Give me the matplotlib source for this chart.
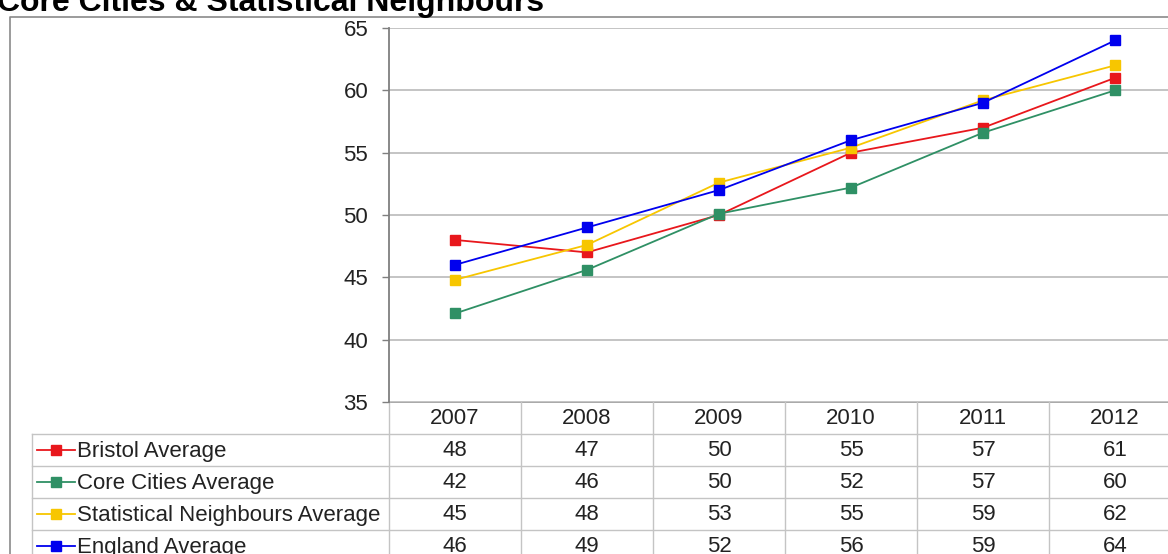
import numpy as np
import matplotlib
matplotlib.use("Agg")
import matplotlib.pyplot as plt

plt.rcParams["font.family"] = ["Liberation Sans", "DejaVu Sans"]

years = ["2007", "2008", "2009", "2010", "2011", "2012"]
bristol = [48.0, 47.0, 50.0, 55.0, 57.0, 61.0]
core_cities = [42.1, 45.6, 50.1, 52.2, 56.6, 60.0]
stat_neighbours = [44.8, 47.6, 52.6, 55.4, 59.2, 62.0]
england = [46.0, 49.0, 52.0, 56.0, 59.0, 64.0]

series_names = ["Bristol Average", "Core Cities Average",
                "Statistical Neighbours Average", "England Average"]
series_vals = [bristol, core_cities, stat_neighbours, england]
series_cols = ["#e8171c", "#2f9065", "#f7c600", "#0000ee"]

W, H = 1168, 554
X0, X1, Y0, Y1 = 389, 1181, 28, 402   # plot area in pixels (y from top)
ROW_H = 32
TAB_L = 32
GRID = "#c4c4c4"
TXT = "#222222"
FS = 16

fig = plt.figure(figsize=(W / 100, H / 100), dpi=100)

# pixel-space overlay for frame, title and data table
pix = fig.add_axes([0, 0, 1, 1], zorder=-1)
pix.set_xlim(0, W); pix.set_ylim(H, 0); pix.axis("off")
pix.plot([10, 10, W + 5], [H + 5, 17, 17], color="#8a8a8a", lw=1.2)
pix.text(-3, 11, "Core Cities & Statistical Neighbours", fontsize=23, fontweight="bold",
         ha="left", va="baseline", color="black")

ax = fig.add_axes([X0 / W, 1 - Y1 / H, (X1 - X0) / W, (Y1 - Y0) / H])
x = np.arange(len(years))
for name, vals, col in zip(series_names, series_vals, series_cols):
    ax.plot(x, vals, color=col, lw=1.3, marker="s", ms=7.5, mec=col, mfc=col, zorder=3)
ax.set_xlim(-0.5, len(years) - 0.5)
ax.set_ylim(35, 65)
ax.set_yticks(range(35, 66, 5))
ax.set_xticks([])
ax.yaxis.grid(True, color=GRID, lw=1.4)
ax.set_axisbelow(True)
for s in ("top", "right", "bottom"):
    ax.spines[s].set_visible(False)
ax.spines["left"].set_color("#7f7f7f")
ax.spines["left"].set_linewidth(1.3)
ax.tick_params(axis="y", length=5, width=1, color="#7f7f7f", labelsize=FS,
               labelcolor=TXT, pad=10)

# data table below the plot
ncol = len(years)
cw = (X1 - X0) / ncol
nrows = len(series_names)
bottom = Y1 + ROW_H * (nrows + 1)
pix.plot([X0, X1 + 5], [Y1, Y1], color="#9a9a9a", lw=1.2)
for i in range(ncol + 1):
    pix.plot([X0 + i * cw] * 2, [Y1, bottom], color=GRID, lw=1.0)
pix.plot([TAB_L, TAB_L], [Y1 + ROW_H, bottom], color=GRID, lw=1.0)
for r in range(1, nrows + 2):
    pix.plot([TAB_L, X1 + 5], [Y1 + r * ROW_H] * 2, color=GRID, lw=1.0)
for i, yr in enumerate(years):
    pix.text(X0 + (i + 0.5) * cw, Y1 + ROW_H / 2 + 1, yr, ha="center", va="center",
             fontsize=FS, color=TXT)
for r, (name, vals, col) in enumerate(zip(series_names, series_vals, series_cols)):
    yc = Y1 + (r + 1.5) * ROW_H
    pix.plot([37, 75], [yc, yc], color=col, lw=1.3)
    pix.plot([56], [yc], marker="s", ms=7, color=col)
    pix.text(77, yc + 1, name, ha="left", va="center", fontsize=FS, color=TXT)
    for i, v in enumerate(vals):
        pix.text(X0 + (i + 0.5) * cw, yc + 1, f"{v:.0f}", ha="center", va="center",
                 fontsize=FS, color=TXT)

fig.savefig("out.png", dpi=100)
